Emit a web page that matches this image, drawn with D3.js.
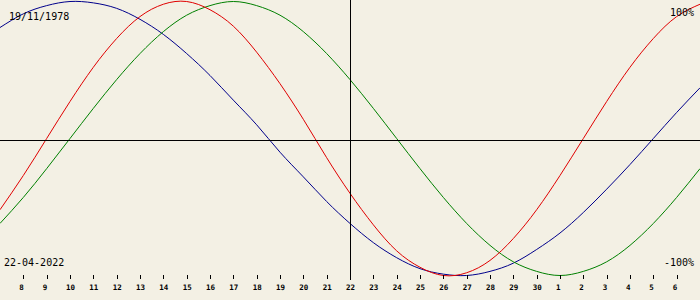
<!DOCTYPE html>
<html>
<head>
<meta charset="utf-8">
<script src="https://cdn.jsdelivr.net/npm/d3@7"></script>
<style>
html,body{margin:0;padding:0;background:#f3f0e4;}
svg{display:block;}
</style>
</head>
<body>
<svg id="chart" width="700" height="300"></svg>
<script>
// Dates: 7 Apr 2022 .. 7 May 2022 (one value per day)
const startDate = "2022-04-07";
const centerDate = "2022-04-22";
const birthLabel = "19/11/1978";
const dateLabel = "22-04-2022";
const topLabel = "100%";
const bottomLabel = "-100%";
// tick labels (day of month) for 8 Apr .. 6 May
const tickDays = [8,9,10,11,12,13,14,15,16,17,18,19,20,21,22,23,24,25,26,27,28,29,30,1,2,3,4,5,6];

const physical = [-0.52,-0.27,0,0.27,0.52,0.73,0.89,0.98,1.00,0.94,0.82,0.63,0.40,0.14,-0.14,-0.40,-0.63,-0.82,-0.94,-1.00,-0.98,-0.89,-0.73,-0.52,-0.27,0,0.27,0.52,0.73,0.89,0.98];
const emotional = [-0.62,-0.43,-0.22,0,0.22,0.43,0.62,0.78,0.90,0.97,1.00,0.97,0.90,0.78,0.62,0.43,0.22,0,-0.22,-0.43,-0.62,-0.78,-0.90,-0.97,-1.00,-0.97,-0.90,-0.78,-0.62,-0.43,-0.22];
const intellectual = [0.81,0.91,0.97,1.00,0.99,0.95,0.87,0.76,0.62,0.46,0.28,0.10,-0.10,-0.28,-0.46,-0.62,-0.76,-0.87,-0.95,-0.99,-1.00,-0.97,-0.91,-0.81,-0.69,-0.54,-0.37,-0.19,0,0.19,0.37];

const W = 700, H = 300;
const svg = d3.select("#chart");
const day0 = new Date(startDate + "T00:00:00Z");
const dayAt = i => new Date(day0.getTime() + i * 86400000);
const dates = physical.map((_, i) => dayAt(i));

const x = d3.scaleUtc().domain([dates[0], dates[dates.length - 1]]).range([0, W]);
const y = d3.scaleLinear().domain([-1, 1]).range([275.5, 1.5]);

svg.append("rect").attr("width", W).attr("height", H).attr("fill", "#f3f0e4");

const mono = "'DejaVu Sans Mono', monospace";

// curves
const line = d3.line().x((d, i) => x(dates[i])).y(d => y(d)).curve(d3.curveNatural);
const series = [
  {vals: intellectual, color: "#00008b"},
  {vals: emotional, color: "#008000"},
  {vals: physical, color: "#e00000"}
];
series.forEach(s => {
  svg.append("path").datum(s.vals).attr("d", line)
    .attr("fill", "none").attr("stroke", s.color).attr("stroke-width", 1);
});

// zero line and today line
svg.append("line").attr("x1", 0).attr("x2", W).attr("y1", 140.5).attr("y2", 140.5)
  .attr("stroke", "#000").attr("stroke-width", 1).attr("shape-rendering", "crispEdges");
const cx = Math.round(x(new Date(centerDate + "T00:00:00Z"))) + 0.5;
svg.append("line").attr("x1", cx).attr("x2", cx).attr("y1", 0).attr("y2", 280)
  .attr("stroke", "#000").attr("stroke-width", 1).attr("shape-rendering", "crispEdges");

// bottom axis with day ticks
const tickDates = tickDays.map((d, i) => dayAt(i + 1));
const axis = d3.axisBottom(x).tickValues(tickDates).tickSize(4).tickFormat((d, i) => tickDays[i]);
const g = svg.append("g").attr("transform", "translate(0,275)").call(axis);
g.select(".domain").remove();
g.selectAll(".tick line").attr("stroke", "#000").attr("shape-rendering", "crispEdges");
g.selectAll(".tick text")
  .attr("y", 15).attr("dy", 0).attr("x", -4.5)
  .attr("text-anchor", "start")
  .attr("font-family", mono).attr("font-size", 7.5).attr("font-weight", "bold").attr("fill", "#000");

// texts
svg.append("text").attr("x", 9).attr("y", 20).text(birthLabel)
  .attr("font-family", mono).attr("font-size", 10).attr("fill", "#000");
svg.append("text").attr("x", 4).attr("y", 266).text(dateLabel)
  .attr("font-family", mono).attr("font-size", 10).attr("fill", "#000");
svg.append("text").attr("x", 694).attr("y", 16).attr("text-anchor", "end").text(topLabel)
  .attr("font-family", mono).attr("font-size", 10).attr("fill", "#000");
svg.append("text").attr("x", 694).attr("y", 266).attr("text-anchor", "end").text(bottomLabel)
  .attr("font-family", mono).attr("font-size", 10).attr("fill", "#000");
</script>
</body>
</html>
